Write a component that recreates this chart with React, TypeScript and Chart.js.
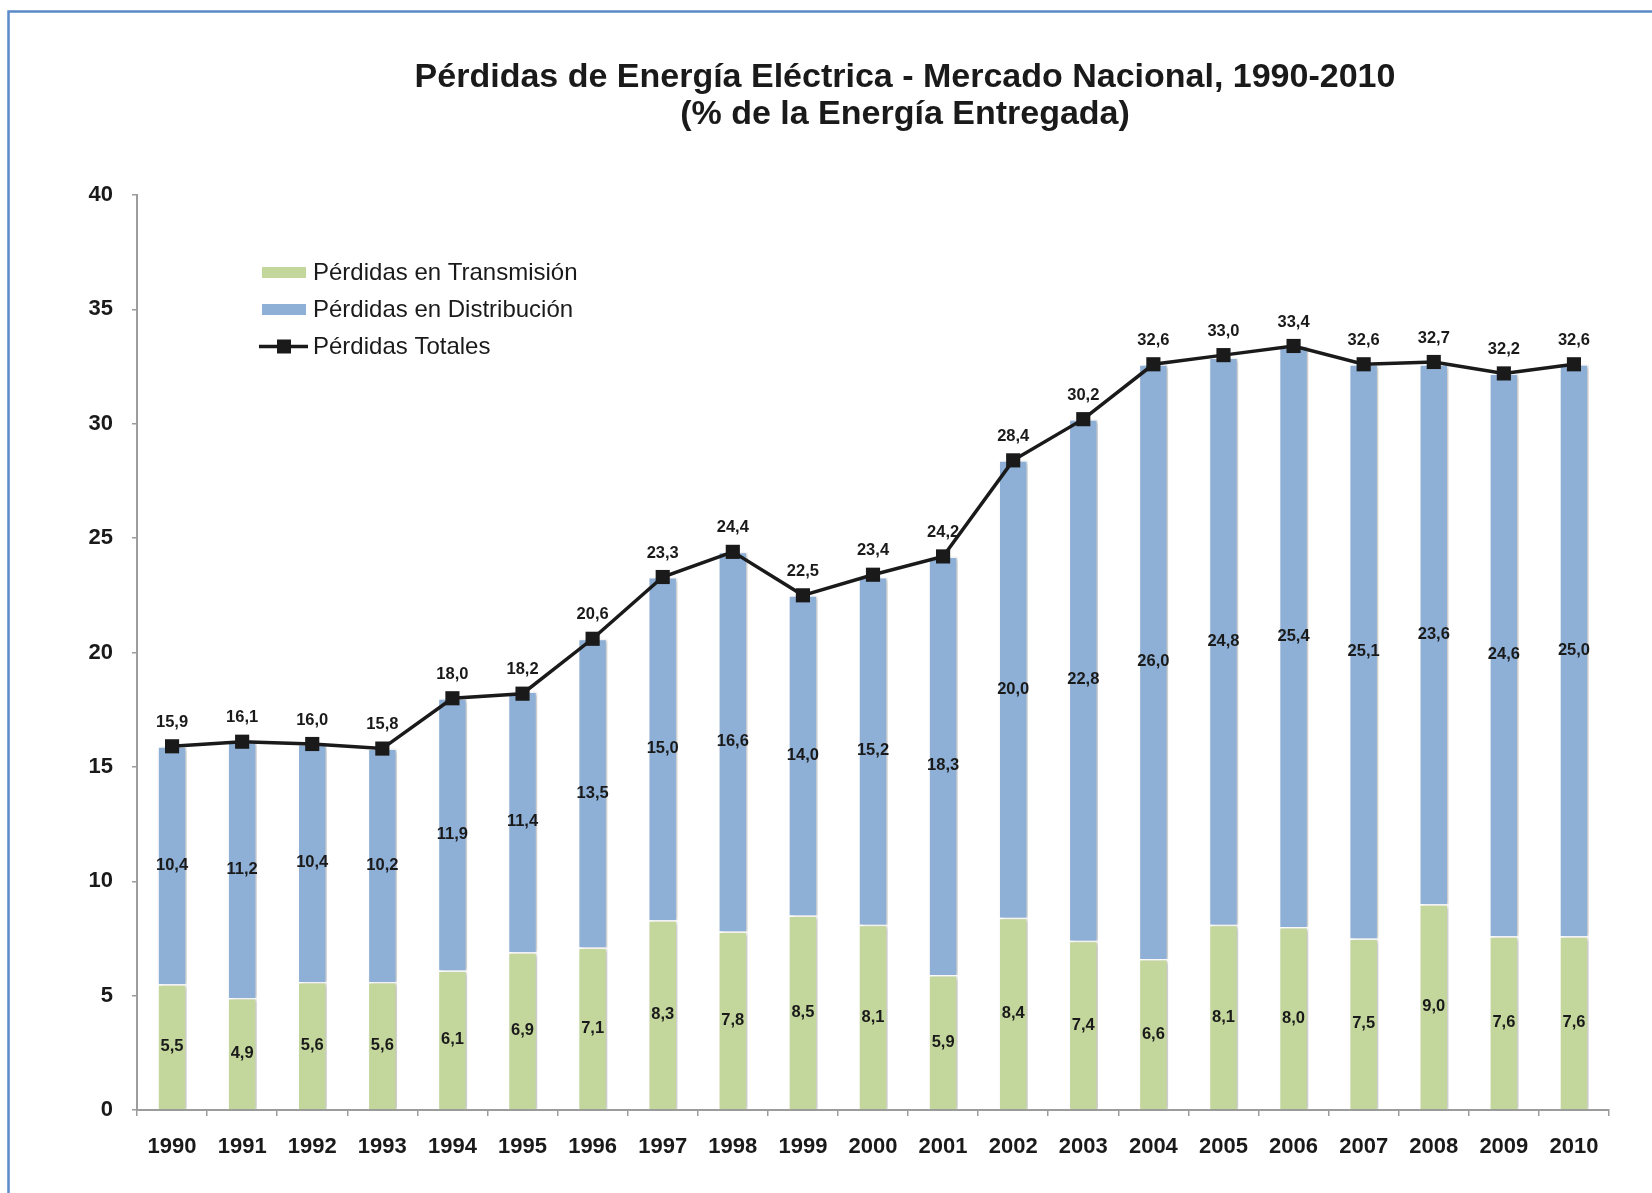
import React, { useEffect, useRef } from "react";
import { Chart, registerables } from "chart.js";

Chart.register(...registerables);

const years = ["1990","1991","1992","1993","1994","1995","1996","1997","1998","1999","2000","2001","2002","2003","2004","2005","2006","2007","2008","2009","2010"];
const transmision = [5.5,4.9,5.6,5.6,6.1,6.9,7.1,8.3,7.8,8.5,8.1,5.9,8.4,7.4,6.6,8.1,8.0,7.5,9.0,7.6,7.6];
const distribucion = [10.4,11.2,10.4,10.2,11.9,11.4,13.5,15.0,16.6,14.0,15.2,18.3,20.0,22.8,26.0,24.8,25.4,25.1,23.6,24.6,25.0];
const totales = [15.9,16.1,16.0,15.8,18.0,18.2,20.6,23.3,24.4,22.5,23.4,24.2,28.4,30.2,32.6,33.0,33.4,32.6,32.7,32.2,32.6];
const yTicks = [0,5,10,15,20,25,30,35,40];
const titleLines = ["Pérdidas de Energía Eléctrica - Mercado Nacional, 1990-2010", "(% de la Energía Entregada)"];
const seriesNames = ["Pérdidas en Transmisión", "Pérdidas en Distribución", "Pérdidas Totales"];

const FONT = "'Liberation Sans', Arial, Helvetica, sans-serif";
const GREEN = "#C3D69B";
const BLUE = "#8EB0D7";
const DARK = "#1a1a1a";
const AXIS = "#9c9c9c";

const fmt = (v: number) => v.toFixed(1).replace(".", ",");

const framePlugin = {
  id: "frame",
  beforeDraw(chart: any) {
    const ctx = chart.ctx;
    ctx.save();
    ctx.fillStyle = "#ffffff";
    ctx.fillRect(0, 0, chart.width, chart.height);
    ctx.strokeStyle = "#5B8BC8";
    ctx.lineWidth = 2.5;
    ctx.strokeRect(8.5, 11.5, 3000, 3000);
    ctx.restore();
  },
  afterDraw(chart: any) {
    const ctx = chart.ctx;
    ctx.save();
    // title
    ctx.fillStyle = DARK;
    ctx.textAlign = "center";
    ctx.textBaseline = "middle";
    ctx.font = `bold 34px ${FONT}`;
    ctx.fillText(titleLines[0], 905, 78);
    ctx.fillText(titleLines[1], 905, 115);
    // legend
    ctx.textAlign = "left";
    ctx.font = `24px ${FONT}`;
    const rows = [272.5, 309.5, 346.5];
    ctx.fillStyle = GREEN;
    ctx.fillRect(262, rows[0] - 5.5, 44, 11);
    ctx.fillStyle = BLUE;
    ctx.fillRect(262, rows[1] - 5.5, 44, 11);
    ctx.strokeStyle = DARK;
    ctx.lineWidth = 3.5;
    ctx.beginPath();
    ctx.moveTo(259, rows[2]);
    ctx.lineTo(308, rows[2]);
    ctx.stroke();
    ctx.fillStyle = DARK;
    ctx.fillRect(277, rows[2] - 7, 14, 14);
    seriesNames.forEach((n, i) => {
      ctx.fillStyle = DARK;
      ctx.fillText(n, 313, rows[i] + 1);
    });
    ctx.restore();
  },
};

const shadowPlugin = {
  id: "barShadow",
  beforeDatasetDraw(chart: any, args: any) {
    if (args.meta.type === "bar") {
      const ctx = chart.ctx;
      ctx.save();
      ctx.shadowColor = "rgba(0,0,0,0.22)";
      ctx.shadowOffsetX = 3;
      ctx.shadowOffsetY = 1;
      ctx.shadowBlur = 4;
    }
  },
  afterDatasetDraw(chart: any, args: any) {
    if (args.meta.type === "bar") {
      chart.ctx.restore();
    }
  },
};

const labelPlugin = {
  id: "valueLabels",
  afterDatasetsDraw(chart: any) {
    const ctx = chart.ctx;
    ctx.save();
    ctx.font = `bold 16.5px ${FONT}`;
    ctx.fillStyle = DARK;
    ctx.textAlign = "center";
    ctx.textBaseline = "middle";
    chart.data.datasets.forEach((ds: any, di: number) => {
      const meta = chart.getDatasetMeta(di);
      meta.data.forEach((el: any, i: number) => {
        const v = ds.data[i] as number;
        if (meta.type === "bar") {
          ctx.fillText(fmt(v), el.x, (el.y + el.base) / 2);
        } else {
          ctx.fillText(fmt(v), el.x, el.y - 24);
        }
      });
    });
    ctx.restore();
  },
};

export default function App() {
  const ref = useRef<HTMLCanvasElement | null>(null);
  useEffect(() => {
    if (!ref.current) return;
    const chart = new Chart(ref.current, {
      type: "bar",
      data: {
        labels: years,
        datasets: [
          {
            type: "line",
            label: seriesNames[2],
            data: totales,
            stack: "total",
            order: 0,
            borderColor: DARK,
            borderWidth: 3.5,
            backgroundColor: DARK,
            pointStyle: "rect",
            pointRadius: 10,
            pointBorderWidth: 0,
            pointBackgroundColor: DARK,
            tension: 0,
          } as any,
          {
            type: "bar",
            label: seriesNames[0],
            data: transmision,
            stack: "a",
            order: 1,
            backgroundColor: GREEN,
            borderColor: "#ffffff",
            borderWidth: 1.5,
            barPercentage: 0.42,
            categoryPercentage: 1,
          },
          {
            type: "bar",
            label: seriesNames[1],
            data: distribucion,
            stack: "a",
            order: 1,
            backgroundColor: BLUE,
            borderColor: "#ffffff",
            borderWidth: 1.5,
            barPercentage: 0.42,
            categoryPercentage: 1,
          },
        ],
      },
      options: {
        animation: false,
        responsive: false,
        devicePixelRatio: 1,
        layout: { padding: { top: 195, right: 43, bottom: 0, left: 0 } },
        plugins: {
          legend: { display: false },
          title: { display: false },
          tooltip: { enabled: false },
        },
        scales: {
          x: {
            stacked: true,
            afterFit: (s: any) => { s.height = 83; },
            grid: { display: true, drawOnChartArea: false, drawTicks: true, tickLength: 6, color: AXIS, lineWidth: 1.5, offset: true },
            border: { display: true, color: AXIS, width: 2 },
            ticks: { color: DARK, font: { family: FONT, size: 22, weight: "bold" }, padding: 18, maxRotation: 0, autoSkip: false },
          },
          y: {
            stacked: true,
            min: 0,
            max: 40,
            afterFit: (s: any) => { s.width = 137; },
            afterBuildTicks: (s: any) => { s.ticks = yTicks.map((v) => ({ value: v })); },
            grid: { display: true, drawOnChartArea: false, drawTicks: true, tickLength: 5, color: AXIS, lineWidth: 1.5 },
            border: { display: true, color: AXIS, width: 2 },
            ticks: { color: DARK, font: { family: FONT, size: 22, weight: "bold" }, padding: 19 },
          },
        },
      },
      plugins: [framePlugin, shadowPlugin, labelPlugin],
    });
    return () => chart.destroy();
  }, []);
  return (
    <div style={{ position: "absolute", left: 0, top: 0, width: 1652, height: 1193 }}>
      <canvas ref={ref} width={1652} height={1193} style={{ display: "block", width: 1652, height: 1193 }} />
    </div>
  );
}
